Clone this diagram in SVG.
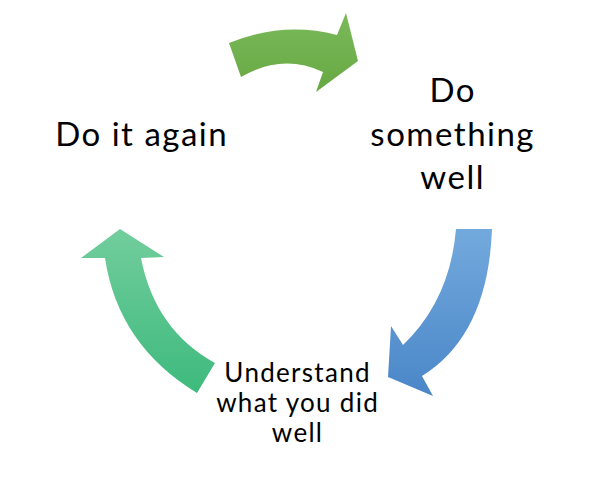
<svg xmlns="http://www.w3.org/2000/svg" width="600" height="494" viewBox="0 0 600 494">
<defs>
<linearGradient id="gTop" x1="0" y1="0" x2="0" y2="1"><stop offset="0" stop-color="#7bb95a"/><stop offset="1" stop-color="#67a843"/></linearGradient>
<linearGradient id="gBlue" x1="0" y1="0" x2="0" y2="1"><stop offset="0" stop-color="#73aadd"/><stop offset="1" stop-color="#4a86c8"/></linearGradient>
<linearGradient id="gGreen" x1="0" y1="0" x2="0" y2="1"><stop offset="0" stop-color="#72cd9d"/><stop offset="1" stop-color="#3eba7d"/></linearGradient>
<style>
.lbl{font-family:Lato,"Open Sans","Liberation Sans",sans-serif;fill:#000;text-anchor:middle}
.big{font-size:33px;letter-spacing:1.5px}
.small{font-size:26px;letter-spacing:1.3px}
</style>
</defs>
<rect width="600" height="494" fill="#fff"/>
<g id="connectors">
<path id="arrow-top" d="M229,43 Q283,21 337,35 L346,13 L358,61 L316,92 L323,72 Q282,53 241,77 Z" fill="url(#gTop)"/>
<path id="arrow-right" d="M456,229 L492,229 Q488,335 422,376 L433,396 L388,377 L391,326 L403,345 Q450,300 456,229 Z" fill="url(#gBlue)"/>
<path id="arrow-left" d="M120,229 L164,257 L141,258 Q155,330 215,363 L197,393 Q118,345 105,258 L81,258 Z" fill="url(#gGreen)"/>
</g>
<g id="node-again">
<text class="lbl big" x="141.7" y="146">Do it again</text>
</g>
<g id="node-do">
<text class="lbl big" x="452.7" y="102">Do</text>
<text class="lbl big" x="452.7" y="146">something</text>
<text class="lbl big" x="452.7" y="189">well</text>
</g>
<g id="node-understand">
<text class="lbl small" x="297.6" y="382">Understand</text>
<text class="lbl small" x="297.6" y="412">what you did</text>
<text class="lbl small" x="297.6" y="442">well</text>
</g>
</svg>
